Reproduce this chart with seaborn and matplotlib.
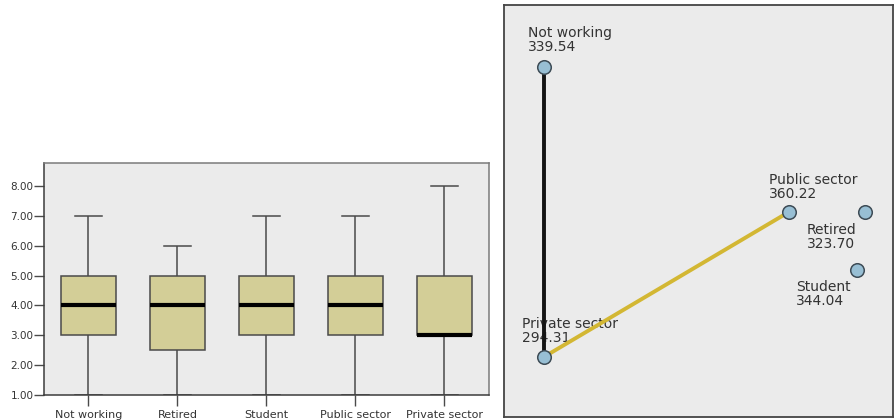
import numpy as np
import pandas as pd
import matplotlib
matplotlib.use("Agg")
import matplotlib.pyplot as plt
import seaborn as sns

# Employment groups and the five-number summary of the score in each
groups = ["Not working", "Retired", "Student", "Public sector", "Private sector"]
score_min = [1, 1, 1, 1, 1]
score_q1 = [3, 2.5, 3, 3, 3]
score_median = [4, 4, 4, 4, 3]
score_q3 = [5, 5, 5, 5, 5]
score_max = [7, 6, 7, 7, 8]
y_ticks = [1, 2, 3, 4, 5, 6, 7, 8]

# Pairwise-comparison network: mean rank per group, node layout, significant pairs
mean_rank = [339.54, 323.70, 344.04, 360.22, 294.31]
node_x = [0.103, 0.928, 0.907, 0.733, 0.103]
node_y = [0.850, 0.498, 0.357, 0.498, 0.146]
edge_pairs = [("Not working", "Private sector"), ("Private sector", "Public sector")]
edge_colors = ["#141414", "#d3b733"]

# Label placement around each node (pixels), and text alignment
label_offset = {
    "Not working": (-16, 13, "bottom"),
    "Retired": (-58, -11, "top"),
    "Student": (-61, -10, "top"),
    "Public sector": (-20, 11, "bottom"),
    "Private sector": (-22, 12, "bottom"),
}

BOX_FILL = "#d3ce97"
PANEL_BG = "#ebebeb"
EDGE_GRAY = "#4a4a4a"
TEXT = "#333333"
BOX_WIDTH = 0.62

plt.rcParams["font.family"] = ["DejaVu Sans"]

# Each group's five summary values reproduce its quartiles exactly
long = pd.DataFrame({
    "group": np.repeat(groups, 5),
    "score": np.ravel(np.column_stack([score_min, score_q1, score_median, score_q3, score_max])),
})

fig = plt.figure(figsize=(8.95, 4.2), dpi=100)
fig.patch.set_facecolor("white")

# ---- Box plot panel ----
ax1 = fig.add_axes([44 / 895, 25 / 420, 445 / 895, 232 / 420])
ax1.set_facecolor(PANEL_BG)
sns.boxplot(
    data=long, x="group", y="score", order=groups, ax=ax1,
    color=BOX_FILL, saturation=1, width=BOX_WIDTH, whis=(0, 100),
    showfliers=False, linewidth=1.1, linecolor=EDGE_GRAY,
    medianprops=dict(color="black", linewidth=3),
)

ax1.set_xlim(-0.5, len(groups) - 0.5)
ax1.set_ylim(1, 8.77)
ax1.set_yticks(y_ticks)
ax1.set_yticklabels([f"{v:.2f}" for v in y_ticks])
ax1.set_xlabel("")
ax1.set_ylabel("")
ax1.tick_params(axis="y", direction="out", length=7, width=1, color=EDGE_GRAY,
                labelsize=7.5, labelcolor=TEXT, pad=0.5)
ax1.tick_params(axis="x", direction="out", length=8, width=1, color=EDGE_GRAY,
                labelsize=8, labelcolor=TEXT, pad=3)
for side, sp in ax1.spines.items():
    sp.set_visible(True)
    sp.set_linewidth(1.1)
    sp.set_color("#3c3c3c" if side in ("left", "bottom") else "#7a7a7a")

# ---- Pairwise comparison network panel ----
ax2 = fig.add_axes([504 / 895, 3 / 420, 389 / 895, 412 / 420])
ax2.set_facecolor(PANEL_BG)
ax2.set_xlim(0, 1)
ax2.set_ylim(0, 1)
ax2.set_xticks([])
ax2.set_yticks([])
for sp in ax2.spines.values():
    sp.set_linewidth(1.3)
    sp.set_color("#444444")

pos = {g: (x, y) for g, x, y in zip(groups, node_x, node_y)}

for g, rank in zip(groups, mean_rank):
    dx, dy, va = label_offset[g]
    ax2.annotate(f"{g}\n{rank:.2f}", xy=pos[g], xytext=(dx, dy),
                 textcoords="offset pixels", ha="left", va=va,
                 fontsize=10, color=TEXT, linespacing=1.0, zorder=2)

for (a, b), c in zip(edge_pairs, edge_colors):
    ax2.plot([pos[a][0], pos[b][0]], [pos[a][1], pos[b][1]],
             color=c, linewidth=2.8, solid_capstyle="round", zorder=3)

sns.scatterplot(x=node_x, y=node_y, ax=ax2, s=95, color="#98bfd4",
                edgecolor="#3d4b55", linewidth=1.1, zorder=4, legend=False)

fig.savefig("out.png", dpi=100)
